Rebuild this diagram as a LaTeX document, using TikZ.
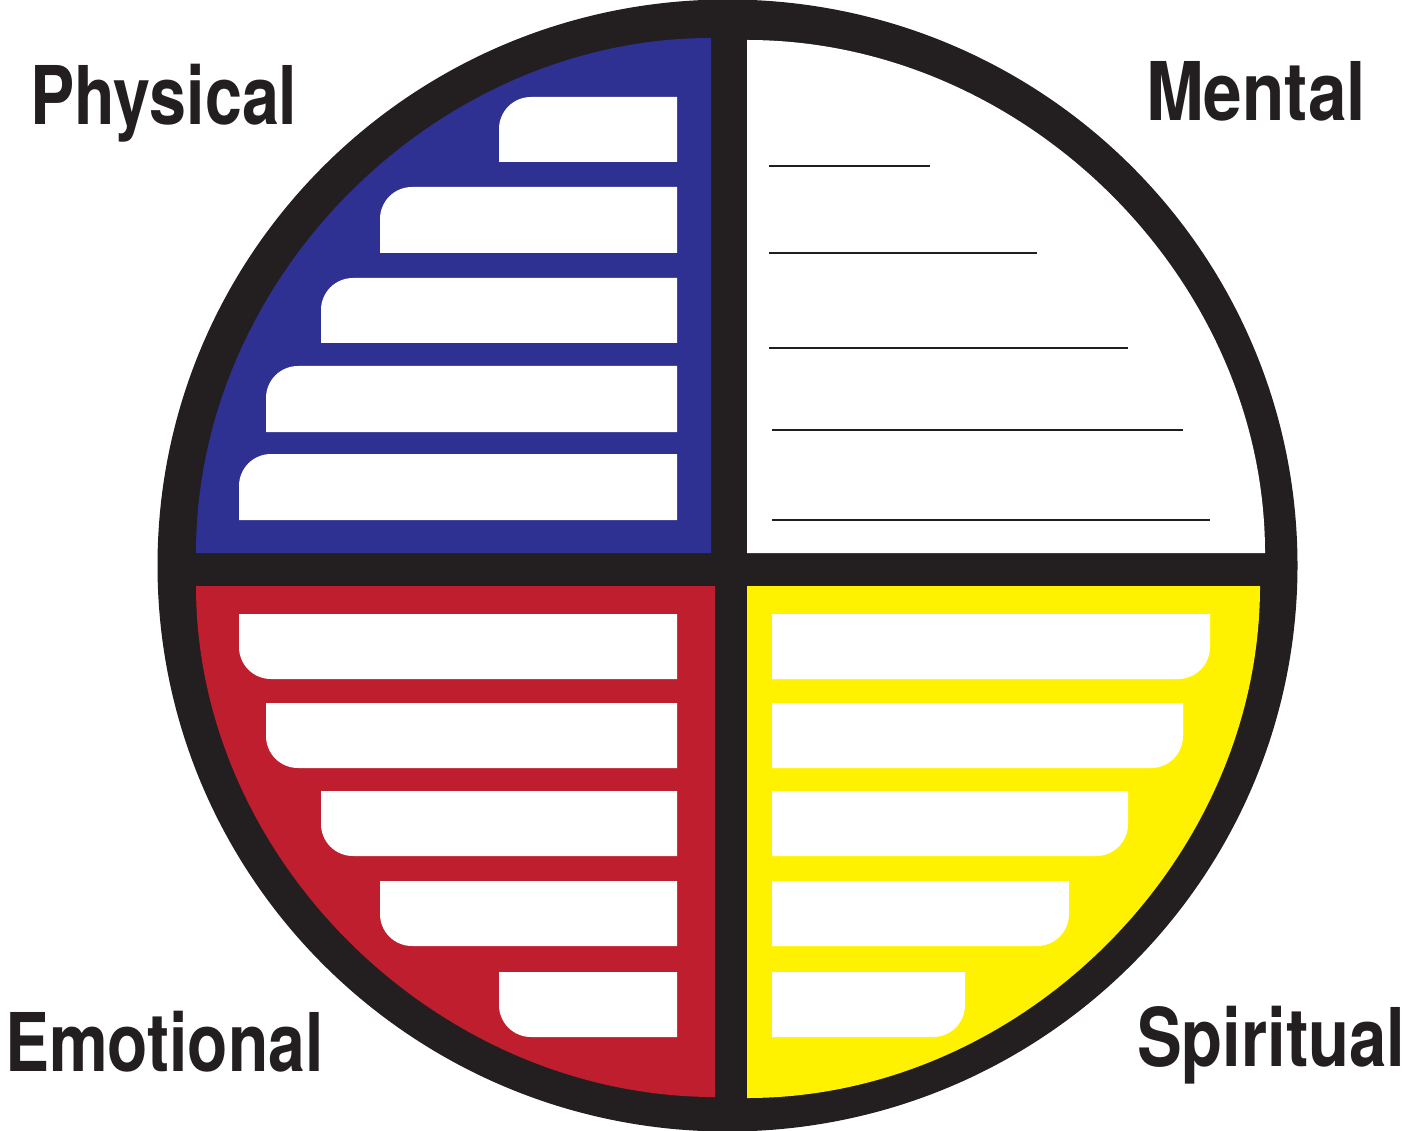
\documentclass[tikz,border=0pt]{standalone}
\usepackage{graphicx}
\usepackage{fontspec}
\setmainfont{TeX Gyre Heros}
\definecolor{ink}{HTML}{231F20}
\definecolor{wblue}{HTML}{2E3192}
\definecolor{wred}{HTML}{BE1E2D}
\definecolor{wyellow}{HTML}{FFF200}
\tikzset{
  quadlabel/.style={inner sep=0pt, anchor=base west, text=ink,
    font=\fontsize{81}{81}\selectfont\bfseries},
  writeline/.style={draw=ink, line width=2.5pt},
  slot/.style={fill=white}
}
% l, t, R, b  ; radius 32
\newcommand\slotTL[4]{\fill[slot] (#1,#4) -- (#1,#2+32) .. controls (#1,#2+14.3) and (#1+14.3,#2) .. (#1+32,#2) -- (#3,#2) -- (#3,#4) -- cycle;}
\newcommand\slotBL[4]{\fill[slot] (#1,#2) -- (#3,#2) -- (#3,#4) -- (#1+32,#4) .. controls (#1+14.3,#4) and (#1,#4-14.3) .. (#1,#4-32) -- cycle;}
\newcommand\slotBR[4]{\fill[slot] (#1,#2) -- (#3,#2) -- (#3,#4-32) .. controls (#3,#4-14.3) and (#3-14.3,#4) .. (#3-32,#4) -- (#1,#4) -- cycle;}
\begin{document}
\begin{tikzpicture}[x=1pt,y=-1pt]
\useasboundingbox (0,0) rectangle (1405,1131);
% outer disk
\fill[ink] (727.5,565.5) ellipse [x radius=570, y radius=566];
% quadrants
\fill[wblue] (711,553) -- (196,553) .. controls (196,277.5) and (435.5,38) .. (711,38) -- cycle;
\fill[white] (747,553) -- (1265,553) .. controls (1265,278.5) and (1024.1,40) .. (747,40) -- cycle;
\fill[wred] (715,586) -- (196,586) .. controls (196,859.4) and (437.3,1097) .. (715,1097) -- cycle;
\fill[wyellow] (747,586) -- (1260,586) .. controls (1260,859.9) and (1021.5,1098) .. (747,1098) -- cycle;
% physical slots
\slotTL{499}{97}{677}{162}
\slotTL{380}{187}{677}{253}
\slotTL{321}{278}{677}{343}
\slotTL{266}{366}{677}{432}
\slotTL{239}{454}{677}{520}
% emotional slots
\slotBL{239}{614}{677}{679}
\slotBL{266}{703}{677}{768}
\slotBL{321}{791}{677}{856}
\slotBL{380}{881}{677}{946}
\slotBL{499}{972}{677}{1037}
% spiritual slots
\slotBR{772}{614}{1210}{679}
\slotBR{772}{703}{1183}{768}
\slotBR{772}{791}{1128}{856}
\slotBR{772}{881}{1069}{946}
\slotBR{772}{972}{965}{1037}
% mental lines
\coordinate (m1a) at (769,166);  \coordinate (m1b) at (930,166);
\coordinate (m2a) at (769,253);  \coordinate (m2b) at (1037,253);
\coordinate (m3a) at (769,348);  \coordinate (m3b) at (1128,348);
\coordinate (m4a) at (772,430);  \coordinate (m4b) at (1183,430);
\coordinate (m5a) at (772,520);  \coordinate (m5b) at (1210,520);
\draw[writeline] (m1a) -- (m1b);
\draw[writeline] (m2a) -- (m2b);
\draw[writeline] (m3a) -- (m3b);
\draw[writeline] (m4a) -- (m4b);
\draw[writeline] (m5a) -- (m5b);
% labels
\node[quadlabel] (physical) at (30,125) {\scalebox{0.82}[1]{Physical}};
\node[quadlabel] (mental) at (1146,121) {\scalebox{0.856}[1]{Mental}};
\node[quadlabel] (emotional) at (5,1071) {\scalebox{0.815}[1]{Emotional}};
\node[quadlabel] (spiritual) at (1137,1066) {\scalebox{0.828}[1]{Spiritual}};
\end{tikzpicture}
\end{document}
